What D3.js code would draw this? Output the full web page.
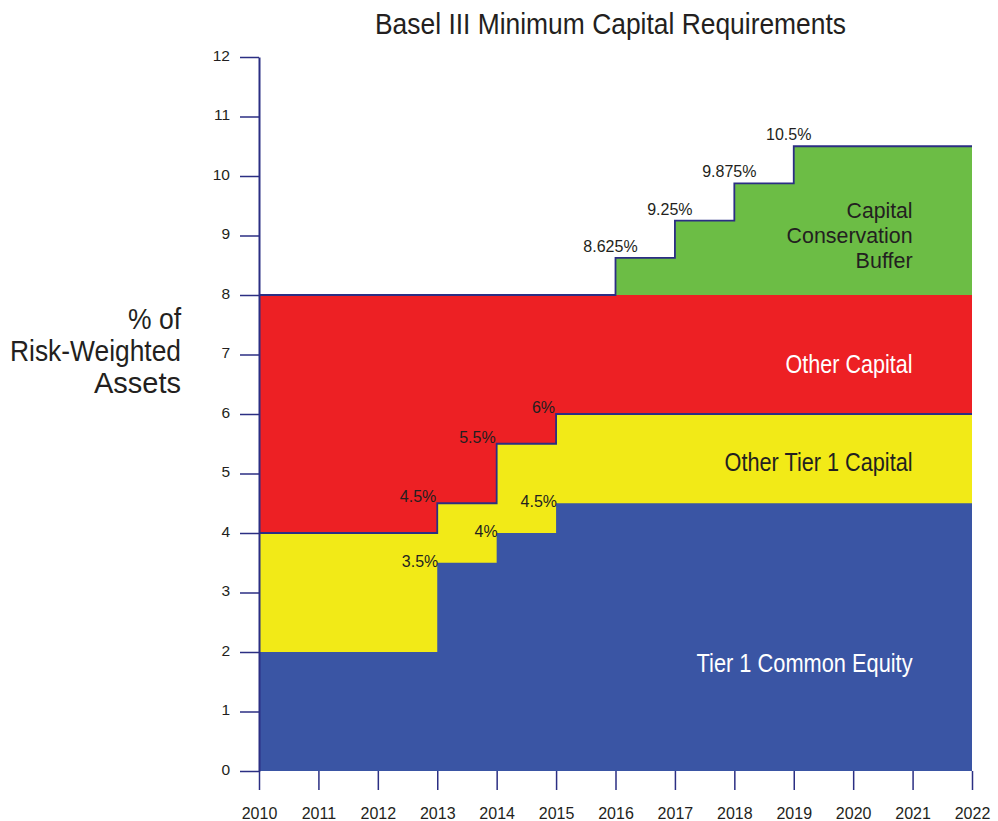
<!DOCTYPE html>
<html>
<head>
<meta charset="utf-8">
<script src="https://cdn.jsdelivr.net/npm/d3@7/dist/d3.min.js"></script>
<style>
  html, body { margin: 0; padding: 0; background: #fff; }
  svg { display: block; }
  text { font-family: "Liberation Sans", Arial, Helvetica, sans-serif; fill: #231f20; }
</style>
</head>
<body>
<svg id="chart" width="998" height="821"></svg>
<script>
// Basel III phase-in schedule: cumulative requirement levels (% of RWA)
const stepYears      = [2010, 2013, 2014, 2015, 2016, 2017, 2018, 2019, 2022];
const commonEquity   = [2, 3.5, 4, 4.5, 4.5, 4.5, 4.5, 4.5, 4.5];
const tier1Total     = [4, 4.5, 5.5, 6, 6, 6, 6, 6, 6];
const minimumTotal   = [8, 8, 8, 8, 8, 8, 8, 8, 8];
const withBuffer     = [8, 8, 8, 8, 8.625, 9.25, 9.875, 10.5, 10.5];

const yearTicks  = [2010, 2011, 2012, 2013, 2014, 2015, 2016, 2017, 2018, 2019, 2020, 2021, 2022];
const valueTicks = [0, 1, 2, 3, 4, 5, 6, 7, 8, 9, 10, 11, 12];

const seriesNames = ["Tier 1 Common Equity", "Other Tier 1 Capital", "Other Capital", "Capital Conservation Buffer"];

const COLORS = {
  blue: "#3a55a4",
  yellow: "#f2ea17",
  red: "#ed2024",
  green: "#6cbd45",
  navy: "#2b2e83",
  ink: "#231f20"
};

const svg = d3.select("#chart");

const x = d3.scaleLinear().domain([2010, 2022]).range([259, 972]);
const y = d3.scaleLinear().domain([0, 12]).range([771, 57]);

const pts = stepYears.map((yr, i) => ({
  year: yr,
  common: commonEquity[i],
  tier1: tier1Total[i],
  total: minimumTotal[i],
  buffer: withBuffer[i]
}));

// Each band is filled from zero and painted back to front, so no seams show
const areaTo = key => d3.area()
  .curve(d3.curveStepAfter)
  .x(d => x(d.year))
  .y0(y(0))
  .y1(d => y(d[key]));

const layers = [
  { key: "buffer", color: COLORS.green },
  { key: "total",  color: COLORS.red },
  { key: "tier1",  color: COLORS.yellow },
  { key: "common", color: COLORS.blue }
];

svg.append("g").selectAll("path")
  .data(layers)
  .join("path")
  .attr("d", l => areaTo(l.key)(pts))
  .attr("fill", l => l.color);

// Navy outlines: Tier 1 boundary and the overall top edge
const lineOf = key => d3.line()
  .curve(d3.curveStepAfter)
  .x(d => x(d.year))
  .y(d => y(d[key]));

svg.append("g").selectAll("path")
  .data(["tier1", "buffer"])
  .join("path")
  .attr("d", k => lineOf(k)(pts))
  .attr("fill", "none")
  .attr("stroke", COLORS.navy)
  .attr("stroke-width", 1.8);

// Axes
const yAxis = d3.axisLeft(y)
  .tickValues(valueTicks)
  .tickFormat(d3.format("d"))
  .tickSize(19)
  .tickSizeOuter(0)
  .tickPadding(10);

const gy = svg.append("g").attr("transform", `translate(${x(2010)},0)`).call(yAxis);
gy.select(".domain").attr("stroke", COLORS.navy).attr("stroke-width", 2);
gy.selectAll(".tick line").attr("stroke", COLORS.navy).attr("stroke-width", 1.5);
gy.selectAll(".tick text")
  .attr("dy", "0.2em")
  .style("font-size", "15.5px")
  .style("fill", COLORS.ink);

const xAxis = d3.axisBottom(x)
  .tickValues(yearTicks)
  .tickFormat(d3.format("d"))
  .tickSize(19)
  .tickSizeOuter(0)
  .tickPadding(18);

const gx = svg.append("g").attr("transform", `translate(0,${y(0)})`).call(xAxis);
gx.select(".domain").remove();
gx.selectAll(".tick line").attr("stroke", COLORS.navy).attr("stroke-width", 1.5);
gx.selectAll(".tick text")
  .style("font-size", "16px")
  .style("fill", COLORS.ink);

// Step labels where each cumulative level changes
function stepChanges(values) {
  const out = [];
  for (let i = 1; i < values.length; i++) {
    if (values[i] !== values[i - 1]) out.push({ year: stepYears[i], value: values[i] });
  }
  return out;
}

const labelGroup = svg.append("g").style("font-size", "16px");

labelGroup.selectAll("text.common")
  .data(stepChanges(commonEquity))
  .join("text")
  .attr("class", "common")
  .attr("text-anchor", "end")
  .attr("x", d => x(d.year) + 1)
  .attr("y", d => y(d.value) + 4)
  .text(d => `${d.value}%`);

labelGroup.selectAll("text.tier1")
  .data(stepChanges(tier1Total))
  .join("text")
  .attr("class", "tier1")
  .attr("text-anchor", "end")
  .attr("x", d => x(d.year) - 1)
  .attr("y", d => y(d.value) - 1)
  .text(d => `${d.value}%`);

labelGroup.selectAll("text.buffer")
  .data(stepChanges(withBuffer))
  .join("text")
  .attr("class", "buffer")
  .attr("text-anchor", "middle")
  .attr("x", d => x(d.year) - 5)
  .attr("y", d => y(d.value) - 6)
  .text(d => `${d.value}%`);

// Condensed headline text: glyphs squeezed to a set run length
function condensed(parent, str, opts) {
  return parent.append("text")
    .attr("x", opts.x)
    .attr("y", opts.y)
    .attr("text-anchor", opts.anchor || "end")
    .attr("textLength", opts.width)
    .attr("lengthAdjust", "spacingAndGlyphs")
    .style("font-size", opts.size + "px")
    .style("fill", opts.color || COLORS.ink)
    .text(str);
}

condensed(svg, "Basel III Minimum Capital Requirements",
  { x: 610.5, y: 34, anchor: "middle", width: 471, size: 29 });

condensed(svg, "% of",          { x: 181, y: 329, width: 53,  size: 30 });
condensed(svg, "Risk-Weighted", { x: 181, y: 361, width: 171, size: 30 });
condensed(svg, "Assets",        { x: 181, y: 393, width: 87,  size: 30 });

const labelX = x(2021);
condensed(svg, "Capital",      { x: labelX, y: 218, width: 66,  size: 22 });
condensed(svg, "Conservation", { x: labelX, y: 243, width: 126, size: 22 });
condensed(svg, "Buffer",       { x: labelX, y: 268, width: 57,  size: 22 });
condensed(svg, seriesNames[2], { x: labelX, y: 373, width: 127, size: 26, color: "#ffffff" });
condensed(svg, seriesNames[1], { x: labelX, y: 471, width: 188, size: 26 });
condensed(svg, seriesNames[0], { x: labelX, y: 672, width: 216, size: 26, color: "#ffffff" });
</script>
</body>
</html>
